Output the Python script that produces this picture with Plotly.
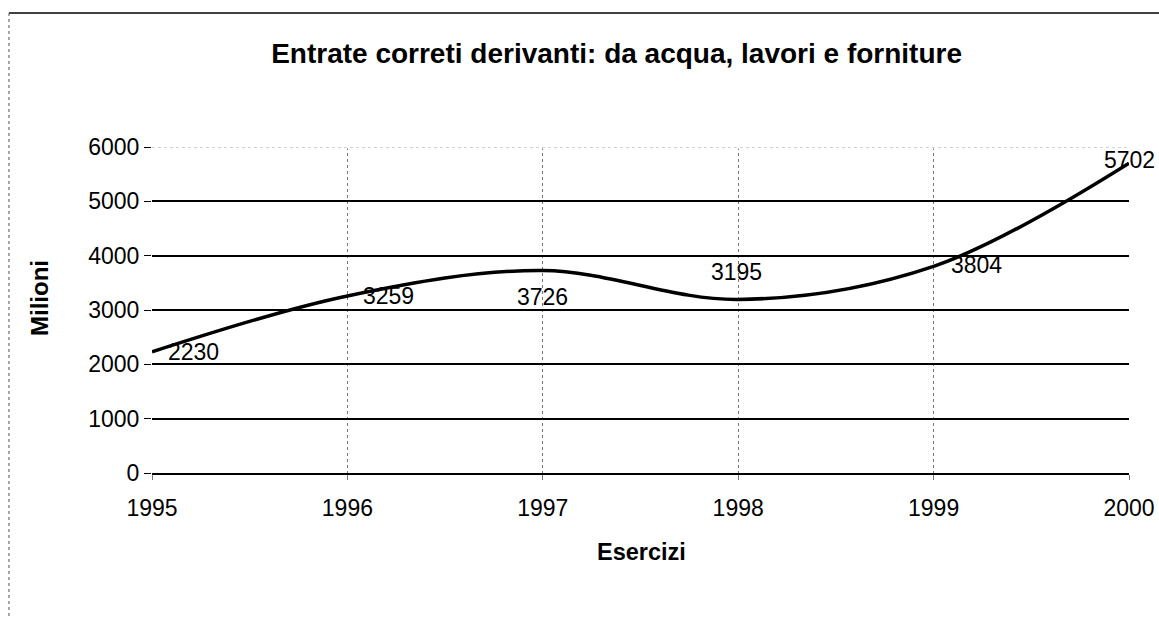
import plotly.graph_objects as go

# data
anni = [1995, 1996, 1997, 1998, 1999, 2000]
entrate = [2230, 3259, 3726, 3195, 3804, 5702]
y_ticks = [0, 1000, 2000, 3000, 4000, 5000, 6000]

FONT = "Liberation Sans, Arial, sans-serif"

fig = go.Figure()
fig.add_trace(go.Scatter(x=anni, y=entrate, mode='lines',
                         line=dict(color='black', width=3.5, shape='spline', smoothing=1.0),
                         hoverinfo='skip', showlegend=False))

# label placement per point (styling only): xanchor, xshift, yshift
lab_pos = [('left', 14, 0), ('left', 14, 0), ('center', 0, -26),
           ('center', -2, 27), ('left', 15, 1), ('center', 0, 3)]
for xv, yv, (anc, dx, dy) in zip(anni, entrate, lab_pos):
    fig.add_annotation(x=xv, y=yv, text=str(yv), showarrow=False,
                       xanchor=anc, yanchor='middle', xshift=dx, yshift=dy,
                       font=dict(family=FONT, size=23, color='black'))

# top gridline looks faint/dotted in the original
fig.add_shape(type='line', xref='paper', yref='y', x0=0, x1=1, y0=y_ticks[-1], y1=y_ticks[-1],
              line=dict(color='white', width=3), layer='above')
fig.add_shape(type='line', xref='paper', yref='y', x0=0, x1=1, y0=y_ticks[-1], y1=y_ticks[-1],
              line=dict(color='#aaaaaa', width=1, dash='dot'), layer='above')

# frame of the scanned page: top and left edges
fig.add_shape(type='line', xref='paper', yref='paper', x0=-0.1464, x1=1.05, y0=1.411, y1=1.411,
              line=dict(color='black', width=1.5))
fig.add_shape(type='line', xref='paper', yref='paper', x0=-0.1464, x1=-0.1464, y0=1.411, y1=-0.5,
              line=dict(color='#555555', width=1, dash='dot'))

# axis titles
fig.add_annotation(x=-0.1146, y=0.537, xref='paper', yref='paper', text='<b>Milioni</b>',
                   xanchor='center', yanchor='middle',
                   showarrow=False, textangle=-90, font=dict(family=FONT, size=24, color='black'))
fig.add_annotation(x=0.5015, y=-0.242, xref='paper', yref='paper', text='<b>Esercizi</b>',
                   xanchor='center', yanchor='middle',
                   showarrow=False, font=dict(family=FONT, size=23.5, color='black'))

fig.update_layout(
    width=1159, height=618,
    margin=dict(l=152, r=30, t=147, b=145, autoexpand=False),
    paper_bgcolor='white', plot_bgcolor='white',
    title=dict(text='<b>Entrate correti derivanti: da acqua, lavori e forniture</b>',
               x=0.532, xref='container', xanchor='center',
               y=1 - 53 / 618, yref='container', yanchor='middle',
               font=dict(family=FONT, size=28, color='black')),
    font=dict(family=FONT, size=23, color='black'),
)
fig.update_xaxes(range=[anni[0], anni[-1]], tickvals=anni, ticktext=[str(a) for a in anni],
                 showgrid=True, gridcolor='#777777', griddash='dot', gridwidth=1,
                 showline=True, linecolor='black', linewidth=2,
                 ticks='outside', ticklen=5, tickcolor='#777777', automargin=False,
                 ticklabelstandoff=8,
                 tickfont=dict(family=FONT, size=23, color='black'), zeroline=False)
fig.update_yaxes(range=[y_ticks[0], y_ticks[-1]], tickvals=y_ticks,
                 showgrid=True, gridcolor='black', gridwidth=1.5,
                 showline=False, zeroline=False, automargin=False,
                 ticks='outside', ticklen=7, tickcolor='black',
                 tickfont=dict(family=FONT, size=23, color='black'))

fig.write_html("out.html", config={'displayModeBar': False},
               post_script="document.body.style.margin='0';document.body.style.padding='0';")
